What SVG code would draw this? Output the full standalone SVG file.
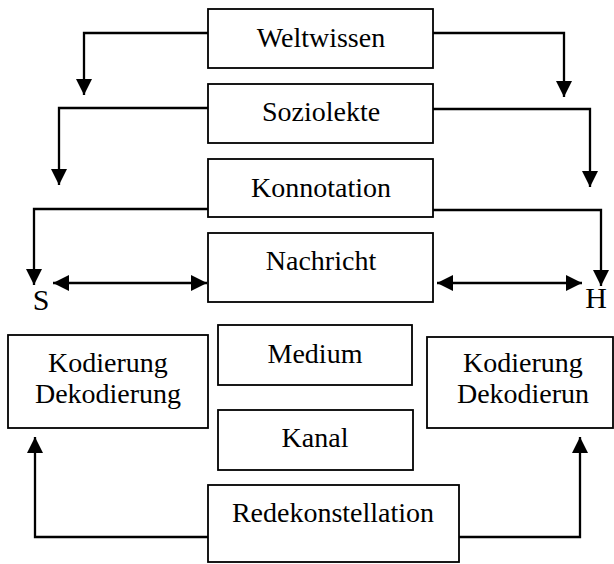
<svg xmlns="http://www.w3.org/2000/svg" width="614" height="564" viewBox="0 0 614 564">
<style>
.box{fill:#fff;stroke:#000;stroke-width:1.8}
.t{font-family:"Liberation Serif","Times New Roman",serif;font-size:28px;fill:#000;text-anchor:middle}
.sh{font-size:30px}
.c{fill:none;stroke:#000;stroke-width:2.3}
</style>
<defs>
<marker id="ah" viewBox="0 0 16 16" refX="16" refY="8" markerWidth="16" markerHeight="16" orient="auto-start-reverse" markerUnits="userSpaceOnUse">
<path d="M0,0 L16,8 L0,16 z" fill="#000"/>
</marker>
</defs>
<rect width="614" height="564" fill="#fff"/>
<g id="connectors">
<path class="c" d="M208,33 H84 V95" marker-end="url(#ah)"/>
<path class="c" d="M433,33 H564 V97" marker-end="url(#ah)"/>
<path class="c" d="M208,108 H59 V185" marker-end="url(#ah)"/>
<path class="c" d="M433,109 H590 V187" marker-end="url(#ah)"/>
<path class="c" d="M208,209 H34 V285" marker-end="url(#ah)"/>
<path class="c" d="M433,210 H601 V286" marker-end="url(#ah)"/>
<path class="c" d="M53,283 H207" marker-start="url(#ah)" marker-end="url(#ah)"/>
<path class="c" d="M437,283 H582" marker-start="url(#ah)" marker-end="url(#ah)"/>
<path class="c" d="M208,537 H35 V437" marker-end="url(#ah)"/>
<path class="c" d="M459,537 H580 V437" marker-end="url(#ah)"/>
</g>
<g id="weltwissen"><rect class="box" x="208" y="9" width="225" height="59"/><text class="t" x="321" y="47">Weltwissen</text></g>
<g id="soziolekte"><rect class="box" x="208" y="84" width="225" height="59"/><text class="t" x="321" y="121">Soziolekte</text></g>
<g id="konnotation"><rect class="box" x="208" y="159" width="225" height="58"/><text class="t" x="321" y="197">Konnotation</text></g>
<g id="nachricht"><rect class="box" x="208" y="233" width="225" height="69"/><text class="t" x="321" y="270">Nachricht</text></g>
<g id="s"><text class="t sh" x="41" y="310">S</text></g>
<g id="h"><text class="t sh" x="596" y="308">H</text></g>
<g id="kodierung-s"><rect class="box" x="8" y="335" width="200" height="93"/><text class="t" x="108" y="372">Kodierung</text><text class="t" x="108" y="403">Dekodierung</text></g>
<g id="medium"><rect class="box" x="218" y="325" width="194" height="60"/><text class="t" x="315" y="363">Medium</text></g>
<g id="kanal"><rect class="box" x="218" y="410" width="195" height="60"/><text class="t" x="315" y="447">Kanal</text></g>
<g id="kodierung-h"><rect class="box" x="427" y="337" width="186" height="91"/><text class="t" x="523" y="372">Kodierung</text><text class="t" x="523" y="403">Dekodierun</text></g>
<g id="redekonstellation"><rect class="box" x="208" y="485" width="251" height="77"/><text class="t" x="333" y="522">Redekonstellation</text></g>
</svg>
